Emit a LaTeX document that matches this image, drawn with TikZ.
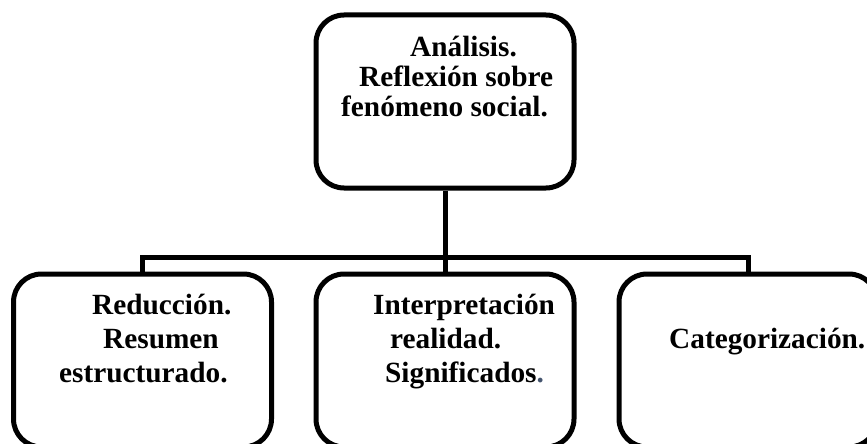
\documentclass[tikz,border=0pt]{standalone}
\usepackage{fontspec}
\setmainfont{Liberation Serif}
\definecolor{dotblue}{RGB}{68,84,110}

\begin{document}
\begin{tikzpicture}[x=1pt,y=-1pt]
\tikzstyle{every node}=[inner sep=0pt]
\tikzstyle{box}=[draw, line width=5pt, rounded corners=28pt, minimum width=258pt, minimum height=173pt]
\tikzstyle{txt}=[anchor=base west, align=left, font=\bfseries\fontsize{29.3}{34}\selectfont]
\tikzstyle{tight}=[txt, font=\bfseries\fontsize{29.3}{30}\selectfont]
\clip (0,0) rectangle (867,444);
\draw node[box] (ana) at (445,101.5) {};
\draw node[box] (red) at (142.5,360.5) {};
\draw node[box] (int) at (445,360.5) {};
\draw node[box] (cat) at (748,360.5) {};
\coordinate (bar) at (445,257);
\draw[line width=5pt] (ana.south) to (bar);
\draw[line width=5pt] (red.north) |- (bar) -| (cat.north);
\draw[line width=5pt] (bar) to (int.north);
% text, anchored at the baseline of the last line
\draw node[tight] (tana) at (341,116) {\hspace*{69pt}Análisis.\\\hspace*{18pt}Reflexión sobre\\fenómeno social.};
\draw node[txt] (tred) at (59,382) {\hspace*{33pt}Reducción.\\\hspace*{44pt}Resumen\\estructurado.};
\draw node[txt] (tint) at (373,382) {Interpretación\\\hspace*{17pt}realidad.\\\hspace*{12pt}Significados\textcolor{dotblue}{.}};
\draw node[txt] (tcat) at (669,348) {Categorización.};
\end{tikzpicture}
\end{document}
